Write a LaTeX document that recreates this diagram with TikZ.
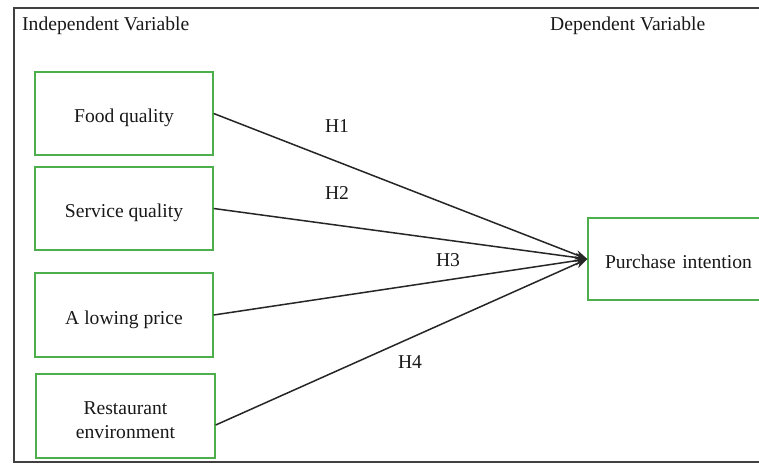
\documentclass[tikz,border=0pt]{standalone}
\usepackage{fontspec}
\setmainfont{Liberation Serif}
\usetikzlibrary{arrows.meta}
\begin{document}
\begin{tikzpicture}[x=1pt,y=-1pt,
  varbox/.style={draw=green!55!black!70, line width=1.4pt, fill=white, inner sep=0pt, align=center, font=\fontsize{19.6}{24}\selectfont, text=black!90},
  title/.style={font=\fontsize{19.6}{24}\selectfont, text=black!90, inner sep=0pt},
  hyp/.style={font=\fontsize{19.6}{24}\selectfont, text=black!90, inner sep=0pt},
  conn/.style={line width=1.5pt, black!85, -{Stealth[length=12pt,width=9pt]}}]
\useasboundingbox (0,0) rectangle (759,464);
\fill[white] (0,0) rectangle (759,464);
% frame
\draw[line width=2pt, black!75] (770,8) -- (14,8) -- (14,462) -- (770,462);
% titles
\node[title, anchor=west] (tin) at (22,26) {Independent Variable};
\node[title, anchor=west] (tdep) at (550,26) {Dependent Variable};
% boxes
\node[varbox, minimum width=178pt, minimum height=83pt, text depth=0pt, text height=18pt] (food) at (124,113.5) {Food quality};
\node[varbox, minimum width=178pt, minimum height=83pt, text depth=0pt, text height=18pt] (serv) at (124,208.5) {Service quality};
\node[varbox, minimum width=178pt, minimum height=84pt, text depth=0pt, text height=18pt] (price) at (124,315) {A lowing price};
\node[varbox, minimum width=179pt, minimum height=84pt] (rest) at (125.5,416) {};
\node[hyp, align=center, yshift=-4pt] (resttext) at (rest.center) {Restaurant\\environment};
\node[varbox, minimum width=200pt, minimum height=82pt, text width=180pt, align=left, text depth=0pt, text height=18pt] (pur) at (688,259) {\hspace*{7pt}Purchase intention};
% connectors
\draw[conn] (food.east) -- (pur.west);
\draw[conn] (serv.east) -- (pur.west);
\draw[conn] (price.east) -- (pur.west);
\draw[conn] (rest.east |- 0,425) -- (pur.west);
% labels
\node[hyp] (h1) at (337,126) {H1};
\node[hyp] (h2) at (337,193) {H2};
\node[hyp] (h3) at (448,260) {H3};
\node[hyp] (h4) at (410,362) {H4};
\end{tikzpicture}
\end{document}
